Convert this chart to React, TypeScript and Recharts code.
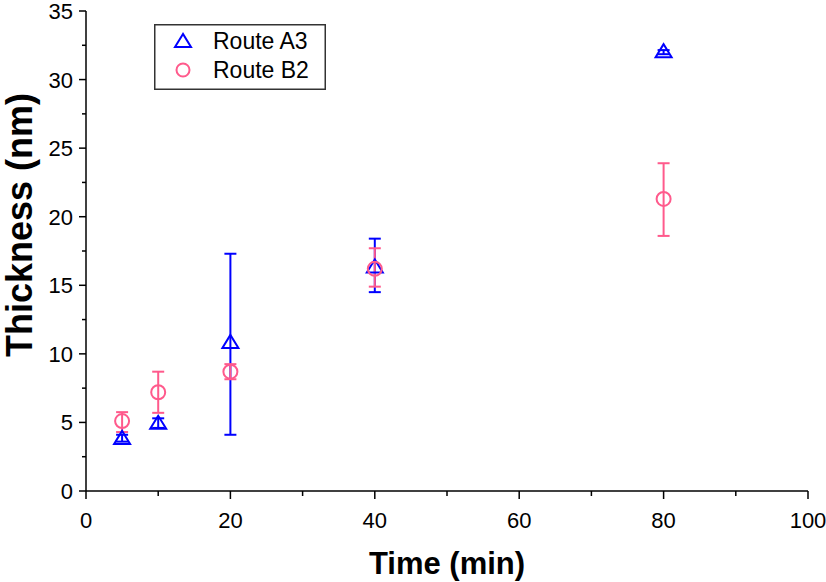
import React from 'react';
import { ScatterChart, Scatter, XAxis, YAxis, ErrorBar } from 'recharts';

const times = [5, 10, 20, 40, 80];
const a3Thickness = [3.8, 4.9, 10.8, 16.3, 32.0];
const a3ErrLow = [0.2, 0.3, 6.7, 1.8, 0.15];
const a3ErrHigh = [0.3, 0.4, 6.5, 2.1, 0.15];
const b2Thickness = [5.1, 7.2, 8.7, 16.2, 21.3];
const b2ErrLow = [0.8, 1.5, 0.55, 1.3, 2.7];
const b2ErrHigh = [0.65, 1.5, 0.55, 1.5, 2.6];

const xTicks = [0, 10, 20, 30, 40, 50, 60, 70, 80, 90, 100];
const xMajor = [0, 20, 40, 60, 80, 100];
const yTicks = [0, 2.5, 5, 7.5, 10, 12.5, 15, 17.5, 20, 22.5, 25, 27.5, 30, 32.5, 35];
const yMajor = [0, 5, 10, 15, 20, 25, 30, 35];

const seriesNames = ['Route A3', 'Route B2'];
const BLUE = '#0000ff';
const PINK = '#ff5a8c';
const FONT = 'Liberation Sans, Arial, sans-serif';

const a3Data = times.map((t, i) => ({ x: t, y: a3Thickness[i], err: [a3ErrLow[i], a3ErrHigh[i]] }));
const b2Data = times.map((t, i) => ({ x: t, y: b2Thickness[i], err: [b2ErrLow[i], b2ErrHigh[i]] }));

const Triangle = (props: any) => {
  const { cx, cy } = props;
  if (cx == null || cy == null) return null;
  const d = `M${cx},${cy - 8} L${cx - 8},${cy + 5} L${cx + 8},${cy + 5} Z`;
  return <path d={d} fill="none" stroke={BLUE} strokeWidth={2} />;
};

const Circle = (props: any) => {
  const { cx, cy } = props;
  if (cx == null || cy == null) return null;
  return <circle cx={cx} cy={cy} r={7} fill="none" stroke={PINK} strokeWidth={2} />;
};

const XTick = (props: any) => {
  const { x, y, payload } = props;
  const major = xMajor.includes(payload.value);
  return (
    <g>
      <line x1={x} y1={y} x2={x} y2={y + (major ? 8 : 5)} stroke="#000" strokeWidth={1.5} />
      {major && (
        <text x={x} y={y + 37} textAnchor="middle" fontSize={22} fontFamily={FONT} fill="#000">
          {payload.value}
        </text>
      )}
    </g>
  );
};

const YTick = (props: any) => {
  const { x, y, payload } = props;
  const major = yMajor.includes(payload.value);
  return (
    <g>
      <line x1={x} y1={y} x2={x - (major ? 7 : 4)} y2={y} stroke="#000" strokeWidth={1.5} />
      {major && (
        <text x={x - 13} y={y + 8} textAnchor="end" fontSize={22} fontFamily={FONT} fill="#000">
          {payload.value}
        </text>
      )}
    </g>
  );
};

const LegendBox = () => (
  <svg width={172} height={66} style={{ display: 'block' }}>
    <rect x={0.75} y={0.75} width={170.5} height={64.5} fill="#fff" stroke="#333" strokeWidth={1.5} />
    <path d="M29,10 L21,23 L37,23 Z" fill="none" stroke={BLUE} strokeWidth={2} />
    <text x={59} y={25} fontSize={23} fontFamily={FONT} fill="#000">{seriesNames[0]}</text>
    <circle cx={29} cy={46} r={6.5} fill="none" stroke={PINK} strokeWidth={2} />
    <text x={59} y={54} fontSize={23} fontFamily={FONT} fill="#000">{seriesNames[1]}</text>
  </svg>
);

export default function App() {
  return (
    <div style={{ position: 'absolute', left: 0, top: 0, width: 826, height: 582, background: '#fff' }}>
      <ScatterChart width={826} height={582} margin={{ top: 11, right: 18, bottom: 0, left: 0 }}>
        <XAxis
          type="number"
          dataKey="x"
          domain={[0, 100]}
          ticks={xTicks}
          interval={0}
          tickSize={0}
          tickMargin={0}
          tick={<XTick />}
          height={91}
          axisLine={{ stroke: '#000', strokeWidth: 1.5 }}
          tickLine={false}
          label={{
            content: (p: any) => {
              const vb = p.viewBox;
              return (
                <text x={vb.x + vb.width / 2} y={574} textAnchor="middle" fontSize={31} fontWeight="bold" fontFamily={FONT} fill="#000">
                  Time (min)
                </text>
              );
            },
          }}
        />
        <YAxis
          type="number"
          dataKey="y"
          domain={[0, 35]}
          ticks={yTicks}
          interval={0}
          tickSize={0}
          tickMargin={0}
          tick={<YTick />}
          width={86}
          axisLine={{ stroke: '#000', strokeWidth: 1.5 }}
          tickLine={false}
          label={{
            content: () => (
              <text x={32} y={225} transform="rotate(-90 32 225)" textAnchor="middle" fontSize={36} fontWeight="bold" fontFamily={FONT} fill="#000">
                Thickness (nm)
              </text>
            ),
          }}
        />
        <Scatter name={seriesNames[0]} data={a3Data} shape={<Triangle />} isAnimationActive={false}>
          <ErrorBar dataKey="err" direction="y" width={6} stroke={BLUE} strokeWidth={2} />
        </Scatter>
        <Scatter name={seriesNames[1]} data={b2Data} shape={<Circle />} isAnimationActive={false}>
          <ErrorBar dataKey="err" direction="y" width={6} stroke={PINK} strokeWidth={2} />
        </Scatter>
      </ScatterChart>
      <div style={{ position: 'absolute', left: 154, top: 24 }}>
        <LegendBox />
      </div>
    </div>
  );
}
